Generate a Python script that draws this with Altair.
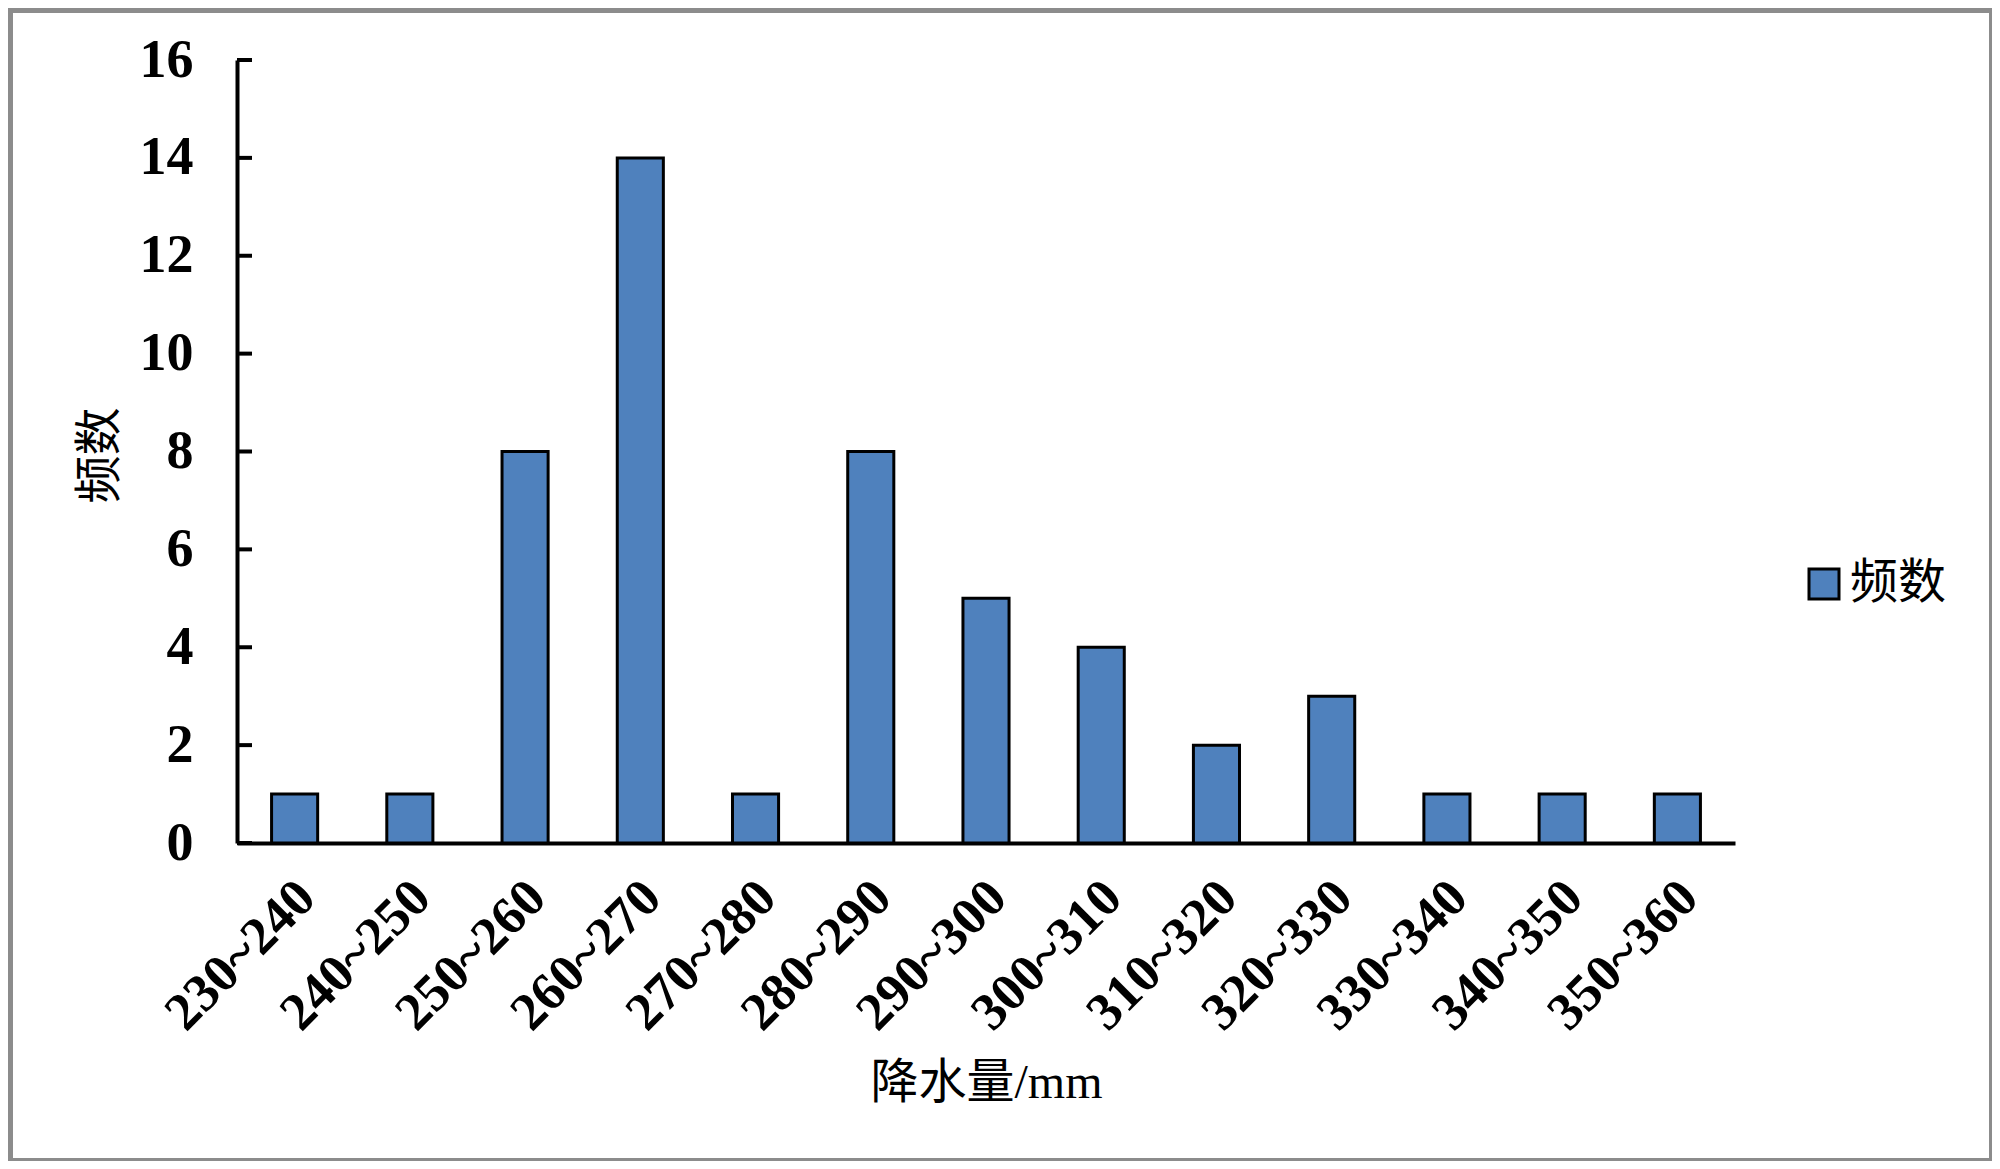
import altair as alt
import pandas as pd

categories = ["230~240", "240~250", "250~260", "260~270", "270~280", "280~290",
              "290~300", "300~310", "310~320", "320~330", "330~340", "340~350", "350~360"]
counts = [1, 1, 8, 14, 1, 8, 5, 4, 2, 3, 1, 1, 1]
y_ticks = [0, 2, 4, 6, 8, 10, 12, 14, 16]
series_name = "频数"

df = pd.DataFrame({"range": categories, "count": counts, "series": [series_name] * len(categories)})
tick_df = pd.DataFrame({"t": y_ticks})

W, H = 1498, 783
num_font = "Liberation Serif"
cjk_font = "Liberation Serif, Noto Sans CJK SC"

yscale = alt.Scale(domain=[0, 16])

bars = alt.Chart(df).mark_bar(stroke="black", strokeWidth=3).encode(
    x=alt.X("range:N", sort=categories,
            scale=alt.Scale(paddingInner=0.6, paddingOuter=0.3),
            axis=alt.Axis(title="降水量/mm", labelAngle=315, labelAlign="right",
                          labelBaseline="middle", labelPadding=46, ticks=False,
                          labelLimit=0, labelOffset=12,
                          labelFont=num_font, labelFontSize=53, labelFontWeight="bold",
                          labelColor="black", domainColor="black", domainWidth=4,
                          titleFont=cjk_font, titleFontSize=48, titleFontWeight="normal",
                          titleColor="black", titleY=240, titleBaseline="middle")),
    y=alt.Y("count:Q", scale=yscale,
            axis=alt.Axis(title="频数", values=y_ticks, ticks=False, grid=False,
                          labelFont=num_font, labelFontSize=54, labelFontWeight="bold",
                          labelColor="black", labelPadding=44, domainColor="black",
                          domainWidth=4, titleFont=cjk_font, titleFontSize=48,
                          titleFontWeight="normal", titleColor="black",
                          titleX=-137, titleY=395, titleAngle=270, titleBaseline="middle")),
    color=alt.Color("series:N", scale=alt.Scale(range=["#4F81BD"]),
                    legend=alt.Legend(title=None, orient="none", legendX=1563, legendY=500,
                                      symbolType="square", symbolSize=900,
                                      symbolStrokeColor="black", symbolStrokeWidth=3,
                                      labelFont="Noto Sans CJK SC", labelFontSize=48,
                                      labelColor="black", labelOffset=2)),
)

ticks = alt.Chart(tick_df).mark_rule(color="black", strokeWidth=4).encode(
    y=alt.Y("t:Q", scale=yscale),
    x=alt.value(0),
    x2=alt.value(15),
)

frame = alt.Chart(tick_df).mark_rect(fill=None, stroke="#8c8c8c", strokeWidth=5).encode(
    x=alt.value(-227), x2=alt.value(1755), y=alt.value(-50), y2=alt.value(1101)
)

chart = alt.layer(bars, ticks, frame).properties(
    width=W, height=H,
    background="white",
    autosize=alt.AutoSizeParams(type="none"),
    padding={"left": 229, "top": 52, "right": 257, "bottom": 318},
).configure_view(stroke=None, strokeWidth=0)

chart.save("out.html", embed_options={"renderer": "svg", "actions": False})
